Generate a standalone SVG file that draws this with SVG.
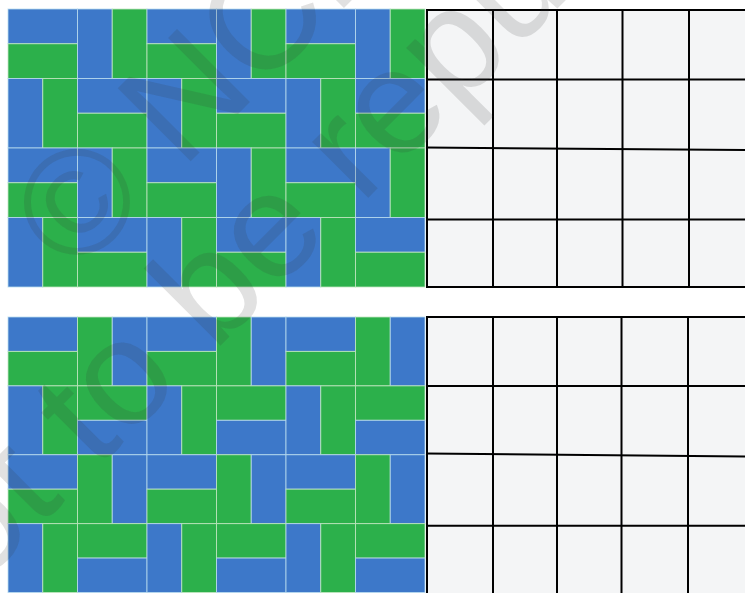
<svg xmlns="http://www.w3.org/2000/svg" xmlns:xlink="http://www.w3.org/1999/xlink" width="745" height="593" viewBox="0 0 745 593">
<style>
.b{fill:#3d78c9;stroke:#b9dcef;stroke-width:1;stroke-opacity:0.8}
.g{fill:#2cb04b;stroke:#c2e6c0;stroke-width:1;stroke-opacity:0.8}
.cell{fill:#f4f5f6}
.gl{stroke:#000;stroke-width:2;fill:none}
.wm{font-family:"Liberation Sans",Arial,sans-serif;font-size:150px;fill:#333;fill-opacity:0.15;text-anchor:middle}
</style>
<defs>
<g id="t-h"><rect class="b" width="69.5" height="34.75"/><rect class="g" y="34.75" width="69.5" height="34.75"/></g>
<g id="t-v"><rect class="b" width="34.75" height="69.5"/><rect class="g" x="34.75" width="34.75" height="69.5"/></g>
<g id="b-hbg"><rect class="b" width="69.5" height="34.44"/><rect class="g" y="34.44" width="69.5" height="34.44"/></g>
<g id="b-hgb"><rect class="g" width="69.5" height="34.44"/><rect class="b" y="34.44" width="69.5" height="34.44"/></g>
<g id="b-vbg"><rect class="b" width="34.75" height="68.875"/><rect class="g" x="34.75" width="34.75" height="68.875"/></g>
<g id="b-vgb"><rect class="g" width="34.75" height="68.875"/><rect class="b" x="34.75" width="34.75" height="68.875"/></g>
</defs>
<rect width="745" height="593" fill="#fff"/>
<g id="tiling-top">
<use xlink:href="#t-h" x="8" y="9"/><use xlink:href="#t-v" x="77.5" y="9"/><use xlink:href="#t-h" x="147" y="9"/><use xlink:href="#t-v" x="216.5" y="9"/><use xlink:href="#t-h" x="286" y="9"/><use xlink:href="#t-v" x="355.5" y="9"/>
<use xlink:href="#t-v" x="8" y="78.5"/><use xlink:href="#t-h" x="77.5" y="78.5"/><use xlink:href="#t-v" x="147" y="78.5"/><use xlink:href="#t-h" x="216.5" y="78.5"/><use xlink:href="#t-v" x="286" y="78.5"/><use xlink:href="#t-h" x="355.5" y="78.5"/>
<use xlink:href="#t-h" x="8" y="148"/><use xlink:href="#t-v" x="77.5" y="148"/><use xlink:href="#t-h" x="147" y="148"/><use xlink:href="#t-v" x="216.5" y="148"/><use xlink:href="#t-h" x="286" y="148"/><use xlink:href="#t-v" x="355.5" y="148"/>
<use xlink:href="#t-v" x="8" y="217.5"/><use xlink:href="#t-h" x="77.5" y="217.5"/><use xlink:href="#t-v" x="147" y="217.5"/><use xlink:href="#t-h" x="216.5" y="217.5"/><use xlink:href="#t-v" x="286" y="217.5"/><use xlink:href="#t-h" x="355.5" y="217.5"/>
</g>
<g id="tiling-bottom">
<use xlink:href="#b-hbg" x="8" y="317"/><use xlink:href="#b-vgb" x="77.5" y="317"/><use xlink:href="#b-hbg" x="147" y="317"/><use xlink:href="#b-vgb" x="216.5" y="317"/><use xlink:href="#b-hbg" x="286" y="317"/><use xlink:href="#b-vgb" x="355.5" y="317"/>
<use xlink:href="#b-vbg" x="8" y="385.875"/><use xlink:href="#b-hgb" x="77.5" y="385.875"/><use xlink:href="#b-vbg" x="147" y="385.875"/><use xlink:href="#b-hgb" x="216.5" y="385.875"/><use xlink:href="#b-vbg" x="286" y="385.875"/><use xlink:href="#b-hgb" x="355.5" y="385.875"/>
<use xlink:href="#b-hbg" x="8" y="454.75"/><use xlink:href="#b-vgb" x="77.5" y="454.75"/><use xlink:href="#b-hbg" x="147" y="454.75"/><use xlink:href="#b-vgb" x="216.5" y="454.75"/><use xlink:href="#b-hbg" x="286" y="454.75"/><use xlink:href="#b-vgb" x="355.5" y="454.75"/>
<use xlink:href="#b-vbg" x="8" y="523.625"/><use xlink:href="#b-hgb" x="77.5" y="523.625"/><use xlink:href="#b-vbg" x="147" y="523.625"/><use xlink:href="#b-hgb" x="216.5" y="523.625"/><use xlink:href="#b-vbg" x="286" y="523.625"/><use xlink:href="#b-hgb" x="355.5" y="523.625"/>
</g>
<g id="grid-top">
<rect class="cell" x="427" y="10" width="318" height="277"/>
<path class="gl" d="M427 9V288M493 9V288M557 9V288M622.5 9V288M689 9V288"/>
<path class="gl" d="M426 10H745M426 79.5H745M426 147.5L745 150M426 219.5H745M426 287H745"/>
</g>
<g id="grid-bottom">
<rect class="cell" x="427" y="317" width="318" height="276"/>
<path class="gl" d="M427 316V593M493 316V593M557 316V593M621.5 316V593M688 316V593"/>
<path class="gl" d="M426 317H745M426 386H745M426 453.5L745 456.5M426 525.7H745"/>
</g>
<g id="watermark">
<text class="wm" transform="translate(310,42) rotate(-45)">© NCERT</text>
<text class="wm" transform="translate(414,152) rotate(-45)">not to be republished</text>
</g>
</svg>
